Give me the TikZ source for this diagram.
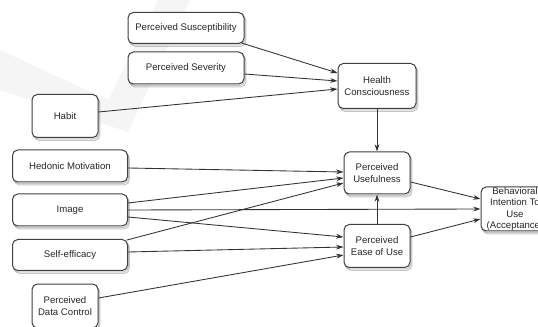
\documentclass[tikz,border=0pt]{standalone}
\usepackage{fontspec}
\setmainfont{Liberation Sans}
\usepackage{tikz}
\usetikzlibrary{arrows.meta,shadows}

\begin{document}
\begin{tikzpicture}[x=0.75pt,y=-0.75pt,>={Stealth[length=5.5pt,width=3.6pt]},
box/.style={draw=black!75,line width=0.75pt,rounded corners=4pt,fill=white,align=center,inner sep=0pt,
  text=black!85,font=\fontsize{7.2}{8.4}\selectfont,
  double copy shadow={shadow xshift=0.7pt,shadow yshift=-1.1pt,opacity=0.3}},
link/.style={->,draw=black!80,line width=0.65pt}]
\useasboundingbox (0,0) rectangle (538,327);
\fill[gray!8] (0,50)--(108,100)--(158,0)--(190,0)--(128,132)--(0,90)--cycle;
\node[box,minimum width=87pt,minimum height=23.25pt](sus) at (186,28){Perceived Susceptibility};
\node[box,minimum width=87pt,minimum height=24pt](sev) at (186,68){Perceived Severity};
\node[box,minimum width=49.5pt,minimum height=32.25pt](habit) at (65,116){Habit};
\node[box,minimum width=86.25pt,minimum height=24pt](hedon) at (70,166){Hedonic Motivation};
\node[box,minimum width=86.25pt,minimum height=24pt](img) at (70,210){Image};
\node[box,minimum width=86.25pt,minimum height=23.25pt](selfeff) at (70,255){Self-efficacy};
\node[box,minimum width=49.5pt,minimum height=33pt](pdc) at (65,306){Perceived\\Data Control};
\node[box,minimum width=58.5pt,minimum height=33.75pt](health) at (377,86){Health\\Consciousness};
\node[box,minimum width=49.5pt,minimum height=31.5pt](pu) at (377,173){Perceived\\Usefulness};
\node[box,minimum width=49.5pt,minimum height=32.25pt](peou) at (377,246){Perceived\\Ease of Use};
\node[box,minimum width=51pt,minimum height=33pt](bi) at (515,209){Behavioral\\Intention To\\Use\\(Acceptance)};
\draw[link] ([shift={(-3,-1)}]sus.south east) -- ([shift={(0,-13)}]health.west);
\draw[link] ([shift={(0,6)}]sev.east) -- ([shift={(0,-5)}]health.west);
\draw[link] ([shift={(0,-4)}]habit.east) -- ([shift={(0,3)}]health.west);
\draw[link] (health) -- (pu);
\draw[link] ([shift={(0,2)}]hedon.east) -- ([shift={(0,-1)}]pu.west);
\draw[link] ([shift={(0,-7)}]img.east) -- ([shift={(0,5)}]pu.west);
\draw[link] ([shift={(-1,1)}]selfeff.north east) -- ([shift={(0,10)}]pu.west);
\draw[link] (img.east) -- (bi.west);
\draw[link] ([shift={(0,7)}]img.east) -- ([shift={(0,-9)}]peou.west);
\draw[link] ([shift={(0,-3)}]selfeff.east) -- ([shift={(0,1)}]peou.west);
\draw[link] ([shift={(0,-8)}]pdc.east) -- ([shift={(0,9)}]peou.west);
\draw[link] (peou) -- (pu);
\draw[link] ([shift={(0,9)}]pu.east) -- ([shift={(0,-10)}]bi.west);
\draw[link] ([shift={(0,-9)}]peou.east) -- ([shift={(0,10)}]bi.west);
\end{tikzpicture}
\end{document}
